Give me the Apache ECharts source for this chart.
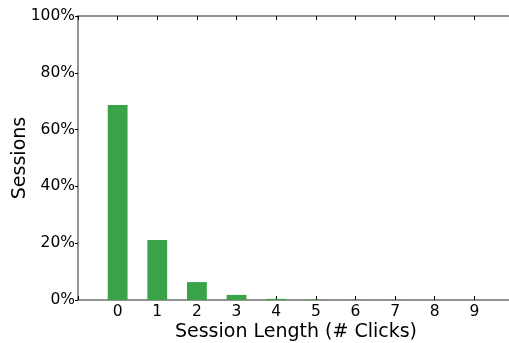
<!DOCTYPE html>
<html>
<head>
<meta charset="utf-8">
<script src="https://cdn.jsdelivr.net/npm/echarts@6/dist/echarts.min.js"></script>
<style>
  html, body { margin: 0; padding: 0; background: #fff; }
  #main { width: 509px; height: 343px; }
</style>
</head>
<body>
<div id="main"></div>
<script>
// session lengths (x) and share of sessions in %
var clicks = [0, 1, 2, 3, 4, 5, 6, 7, 8, 9];
var sessionPct = [68.7, 21.1, 6.3, 1.8, 0.4, 0.15, 0.08, 0.05, 0.03, 0.02];
var yTicks = [0, 20, 40, 60, 80, 100];

var chart = echarts.init(document.getElementById('main'));

var font = 'DejaVu Sans';
var spine = '#707070';

var option = {
    animation: false,
    textStyle: { fontFamily: font },
    grid: { left: 78, top: 16, width: 436, height: 284, outerBoundsMode: 'none', containLabel: false },
    xAxis: [{
        type: 'value',
        min: -1,
        max: 10,
        interval: 1,
        name: 'Session Length (# Clicks)',
        nameLocation: 'middle',
        nameGap: 23,
        nameMoveOverlap: false,
        nameTextStyle: { fontSize: 19, color: '#000', fontFamily: font },
        axisLine: { show: true, onZero: false, lineStyle: { color: spine, width: 1.5 } },
        axisTick: { show: true, inside: true, length: 4, lineStyle: { color: '#000' } },
        axisLabel: {
            margin: 4,
            fontSize: 15.5,
            color: '#000',
            fontFamily: font,
            formatter: function (v) { return (v >= 0 && v <= 9) ? String(v) : ''; }
        },
        splitLine: { show: false }
    }, {
        type: 'value',
        position: 'top',
        min: -1,
        max: 10,
        interval: 1,
        axisLine: { show: true, onZero: false, lineStyle: { color: spine, width: 1.5 } },
        axisTick: { show: true, inside: true, length: 4, lineStyle: { color: '#000' } },
        axisLabel: { show: false },
        splitLine: { show: false }
    }],
    yAxis: {
        type: 'value',
        min: yTicks[0],
        max: yTicks[yTicks.length - 1],
        interval: 20,
        name: 'Sessions',
        nameLocation: 'middle',
        nameGap: 48,
        nameMoveOverlap: false,
        nameTextStyle: { fontSize: 19, color: '#000', fontFamily: font },
        axisLine: { show: true, onZero: false, lineStyle: { color: spine, width: 1.5 } },
        axisTick: { show: true, length: 3, lineStyle: { color: '#000' } },
        axisLabel: { margin: 3, fontSize: 15.5, color: '#000', fontFamily: font, formatter: '{value}%' },
        splitLine: { show: false }
    },
    series: [{
        type: 'bar',
        barWidth: 19.8,
        itemStyle: { color: '#38a347' },
        data: clicks.map(function (c, i) { return [c, sessionPct[i]]; })
    }]
};

chart.setOption(option);
</script>
</body>
</html>
